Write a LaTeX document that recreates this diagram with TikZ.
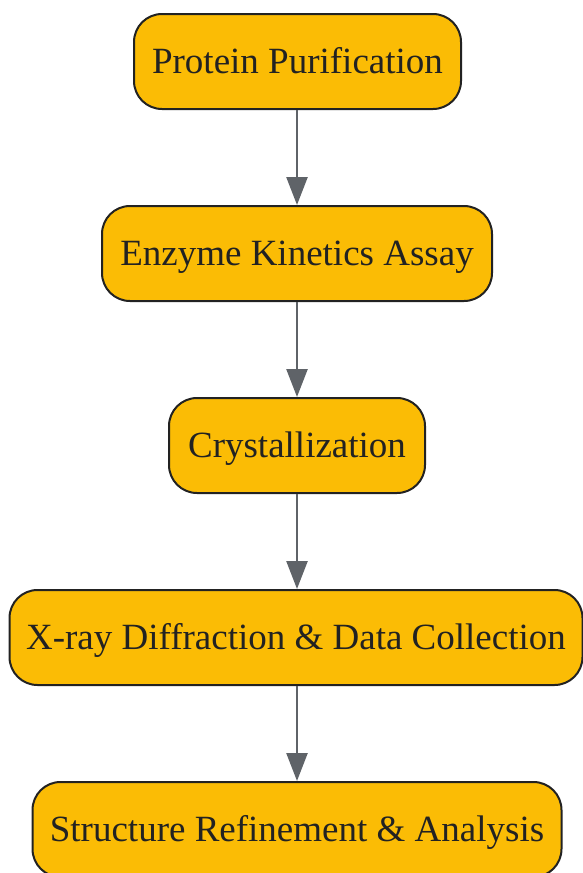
\documentclass[tikz,border=0pt]{standalone}
\usepackage{fontspec}
\setmainfont{Liberation Serif}
\usetikzlibrary{arrows.meta}
\definecolor{boxfill}{HTML}{FBBC05}
\definecolor{boxline}{HTML}{222222}
\definecolor{arrowc}{HTML}{5F6368}
\tikzset{
  stepbox/.style={draw=boxline, fill=boxfill, line width=2pt, rounded corners=28pt,
    minimum height=95pt, text=boxline, inner sep=0pt, text height=28pt, text depth=5pt,
    font=\fontsize{37}{44}\selectfont},
  flow/.style={draw=arrowc, line width=2.5pt, -{Triangle[length=28pt,width=21pt]}}
}
\begin{document}
\begin{tikzpicture}[x=1pt,y=-1pt]
\useasboundingbox (0,0) rectangle (582,873);
\node[stepbox, minimum width=327pt] (a) at (297.5,61.5) {Protein Purification};
\node[stepbox, minimum width=390pt] (b) at (297,253.5) {Enzyme Kinetics Assay};
\node[stepbox, minimum width=256pt] (c) at (297,445.5) {Crystallization};
\node[stepbox, minimum width=573pt] (d) at (296,637.5) {X-ray Diffraction \& Data Collection};
\node[stepbox, minimum width=529pt] (e) at (297,829.5) {Structure Refinement \& Analysis};
\coordinate (ax) at (297,0);
\draw[flow] (a.south -| ax) -- (b.north -| ax);
\draw[flow] (b.south -| ax) -- (c.north -| ax);
\draw[flow] (c.south -| ax) -- (d.north -| ax);
\draw[flow] (d.south -| ax) -- (e.north -| ax);
\end{tikzpicture}
\end{document}
